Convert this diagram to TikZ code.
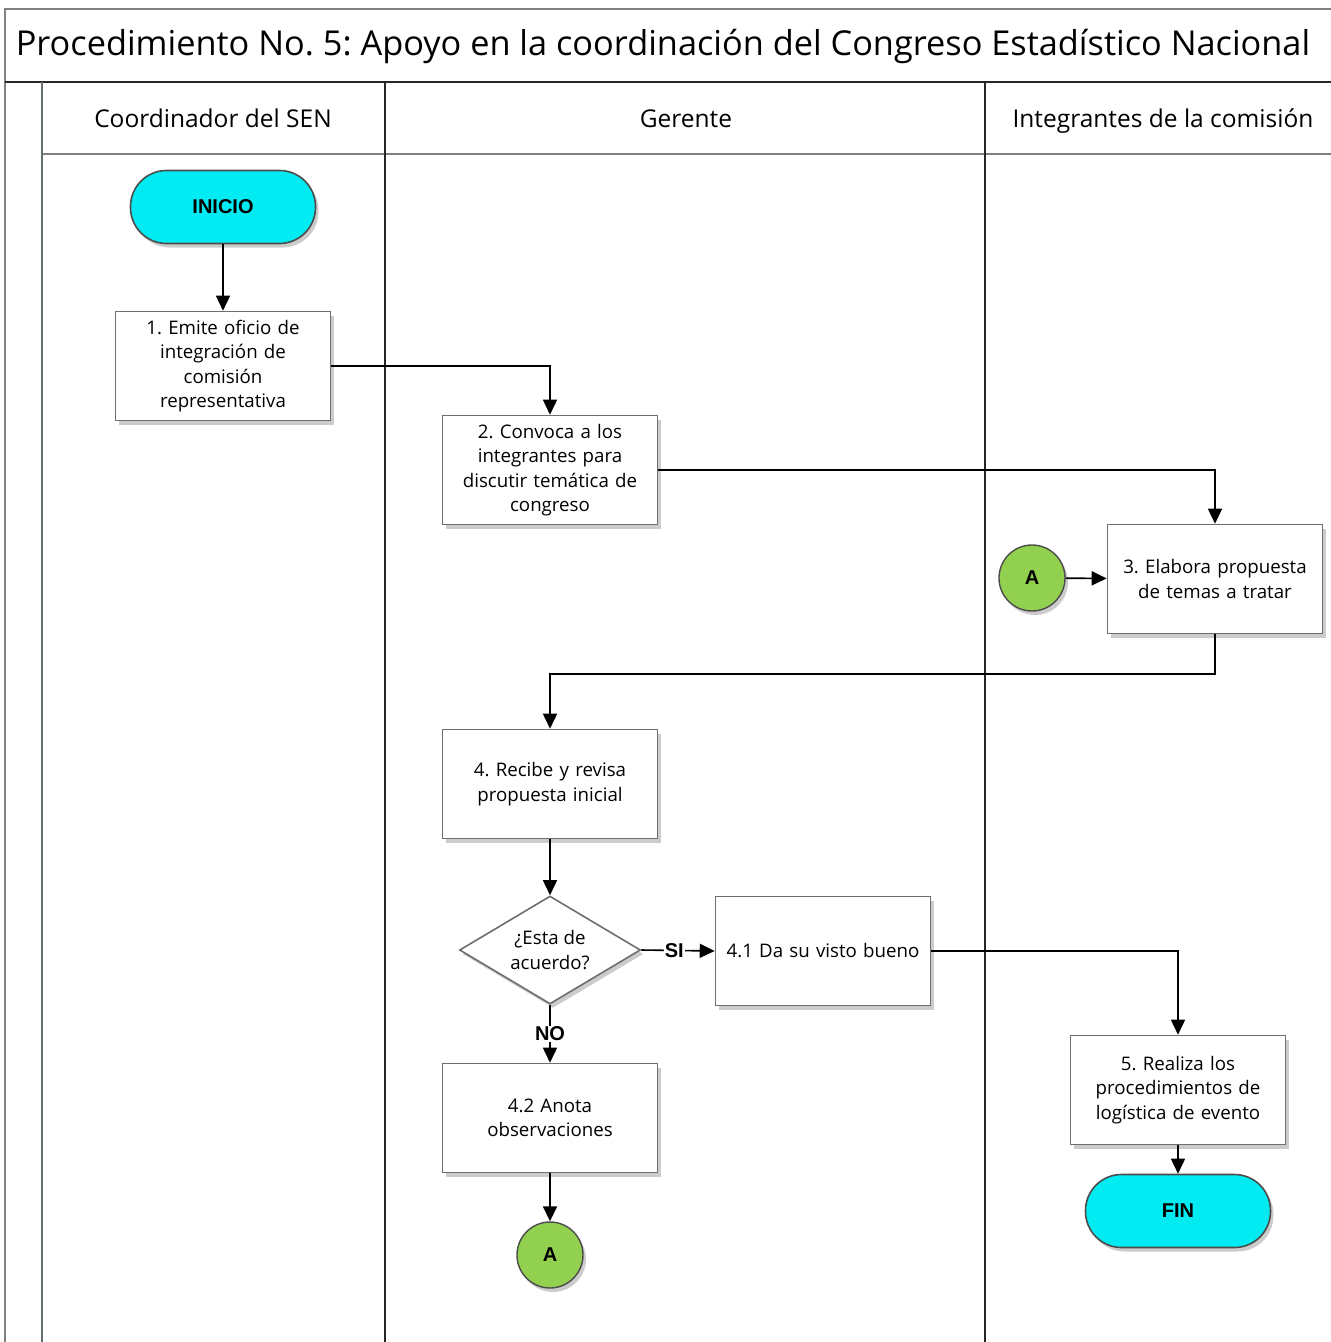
\documentclass[tikz,border=0pt]{standalone}
\usepackage{fontspec}
\setmainfont{Open Sans}
\newfontfamily\arialf{Liberation Sans}
\usetikzlibrary{shapes.geometric,arrows.meta,shadows}
\definecolor{cyanfill}{RGB}{0,236,242}
\definecolor{greenfill}{RGB}{146,208,80}
\definecolor{boxline}{RGB}{110,110,110}
\definecolor{laneline}{RGB}{100,110,110}
\frenchspacing
\begin{document}
\begin{tikzpicture}[x=1pt,y=-1pt,
  shd/.style={drop shadow={shadow xshift=3pt,shadow yshift=-4pt,opacity=0.2,fill=black}},
  proc/.style={draw=boxline,line width=1.6pt,fill=white,minimum width=215pt,minimum height=109pt,
    text width=208pt,align=center,inner sep=0pt,font=\fontsize{18.7}{24.5}\selectfont,shd},
  term/.style={draw=black!70,line width=1.6pt,fill=cyanfill,minimum width=185pt,minimum height=73pt,
    rounded corners=36pt,font=\arialf\bfseries\fontsize{20}{24}\selectfont,shd},
  conn/.style={circle,draw=black!70,line width=1.4pt,fill=greenfill,minimum size=66pt,inner sep=0pt,
    font=\arialf\bfseries\fontsize{20}{24}\selectfont,shd},
  dec/.style={diamond,draw=boxline,line width=1.6pt,fill=white,minimum width=181pt,minimum height=108pt,
    aspect=1.68,inner sep=0pt,align=center,font=\fontsize{18.7}{24.5}\selectfont,shd},
  flow/.style={draw=black,line width=1.6pt,-{Triangle[length=15pt,width=14pt]}},
  lbl/.style={font=\arialf\bfseries\fontsize{20}{24}\selectfont,fill=white,inner sep=1pt},
  hdr/.style={font=\fontsize{24.5}{28}\selectfont,text height=18pt,text depth=6pt,inner sep=0pt},
]
\useasboundingbox (0,0) rectangle (1331,1342);
% pool
\fill[white] (0,0) rectangle (1331,1342);
\draw[line width=1.6pt,draw=gray] (1345,9) -- (5,9) -- (5,1350);
\draw[line width=2.2pt,draw=black!85] (5,82) -- (1345,82);
\draw[line width=1.6pt,draw=gray] (42,154) -- (1345,154);
\draw[line width=2.6pt,draw=laneline] (42,82) -- (42,1350);
\draw[line width=2.4pt,draw=black!85] (385,82) -- (385,1350);
\draw[line width=2.4pt,draw=black!85] (985,82) -- (985,1350);
\node[font=\fontsize{34.3}{40}\selectfont,text height=26pt,text depth=8pt,inner sep=0pt] (title) at (663,46) {Procedimiento No. 5: Apoyo en la coordinación del Congreso Estadístico Nacional};
\node[hdr] (h1) at (213,121) {Coordinador del SEN};
\node[hdr] (h2) at (686,121) {Gerente};
\node[hdr] (h3) at (1163,121) {Integrantes de la comisión};
% nodes
\node[term] (inicio) at (223,207) {INICIO};
\node[proc] (b1) at (223,366) {1. Emite oficio de\\integración de\\comisión\\representativa};
\node[proc] (b2) at (550,470) {2. Convoca a los\\integrantes para\\discutir temática de\\congreso};
\node[proc] (b3) at (1215,579) {3. Elabora propuesta\\de temas a tratar};
\node[conn] (a1) at (1032,578) {A};
\node[proc] (b4) at (550,784) {4. Recibe y revisa\\propuesta inicial};
\node[dec] (d) at (550,950) {¿Esta de\\acuerdo?};
\node[proc] (b41) at (823,951) {4.1 Da su visto bueno};
\node[proc] (b42) at (550,1118) {4.2 Anota\\observaciones};
\node[conn] (a2) at (550,1255) {A};
\node[proc] (b5) at (1178,1090) {5. Realiza los\\procedimientos de\\logística de evento};
\node[term] (fin) at (1178,1211) {FIN};
% connectors
\draw[flow] (inicio) -- (b1);
\draw[flow] (b1.east) -| (b2.north);
\draw[flow] (b2.east) -| (b3.north);
\draw[flow] (a1) -- (b3);
\coordinate (c34) at (550,674);
\draw[flow] (b3.south) |- (c34) -- (b4.north);
\draw[flow] (b4) -- (d);
\draw[flow] (d.east) -- node[lbl,pos=0.45]{SI} (b41.west);
\draw[flow] (d.south) -- node[lbl,pos=0.5]{NO} (b42.north);
\draw[flow] (b41.east) -| (b5.north);
\draw[flow] (b42) -- (a2);
\draw[flow] (b5) -- (fin);
\end{tikzpicture}
\end{document}
